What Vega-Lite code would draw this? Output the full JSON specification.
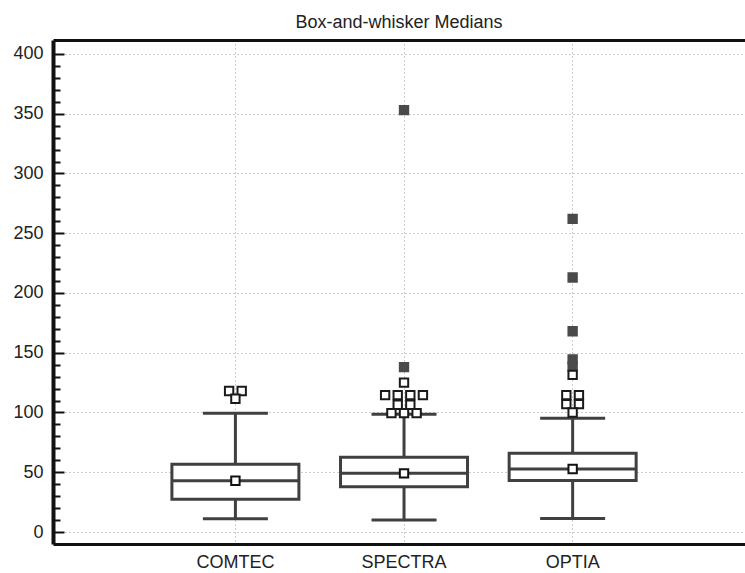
{
  "$schema": "https://vega.github.io/schema/vega-lite/v6.json",
  "width": 692,
  "height": 504,
  "autosize": {"type": "none"},
  "padding": {"left": 53, "top": 40, "right": 0, "bottom": 29},
  "background": "white",
  "config": {"view": {"stroke": null}, "font": "Liberation Sans"},
  "title": {"text": "Box-and-whisker Medians", "font": "Liberation Sans", "fontSize": 18, "fontWeight": "normal", "color": "#222222", "anchor": "middle", "offset": 8},
  "datasets": {
    "stats": [
      {"group": "COMTEC", "lower": 11, "q1": 27.4, "median": 42.9, "q3": 56.6, "upper": 99.3},
      {"group": "SPECTRA", "lower": 10, "q1": 37.9, "median": 49.1, "q3": 62.5, "upper": 98.5},
      {"group": "OPTIA", "lower": 11.2, "q1": 43.2, "median": 52.7, "q3": 65.8, "upper": 95.1}
    ],
    "outliers": [
      {"group": "COMTEC", "value": 118, "kind": "outside"},
      {"group": "COMTEC", "value": 118, "kind": "outside"},
      {"group": "COMTEC", "value": 111.5, "kind": "outside"},
      {"group": "SPECTRA", "value": 353, "kind": "far"},
      {"group": "SPECTRA", "value": 138, "kind": "far"},
      {"group": "SPECTRA", "value": 125, "kind": "outside"},
      {"group": "SPECTRA", "value": 114.5, "kind": "outside"},
      {"group": "SPECTRA", "value": 114.5, "kind": "outside"},
      {"group": "SPECTRA", "value": 114.5, "kind": "outside"},
      {"group": "SPECTRA", "value": 114.5, "kind": "outside"},
      {"group": "SPECTRA", "value": 106.5, "kind": "outside"},
      {"group": "SPECTRA", "value": 106.5, "kind": "outside"},
      {"group": "SPECTRA", "value": 99.5, "kind": "outside"},
      {"group": "SPECTRA", "value": 99.5, "kind": "outside"},
      {"group": "SPECTRA", "value": 99.5, "kind": "outside"},
      {"group": "OPTIA", "value": 262, "kind": "far"},
      {"group": "OPTIA", "value": 213, "kind": "far"},
      {"group": "OPTIA", "value": 168, "kind": "far"},
      {"group": "OPTIA", "value": 144.5, "kind": "far"},
      {"group": "OPTIA", "value": 138.5, "kind": "far"},
      {"group": "OPTIA", "value": 131.5, "kind": "outside"},
      {"group": "OPTIA", "value": 114.5, "kind": "outside"},
      {"group": "OPTIA", "value": 114.5, "kind": "outside"},
      {"group": "OPTIA", "value": 107, "kind": "outside"},
      {"group": "OPTIA", "value": 107, "kind": "outside"},
      {"group": "OPTIA", "value": 100, "kind": "outside"}
    ]
  },
  "resolve": {"axis": {"x": "independent", "y": "independent"}},
  "layer": [
    {
      "data": {"name": "stats"},
      "mark": {"type": "rule", "color": "#404040", "strokeWidth": 3},
      "encoding": {
        "x": {"field": "group", "type": "nominal", "sort": ["COMTEC", "SPECTRA", "OPTIA"],
          "scale": {"type": "band", "paddingInner": 0, "paddingOuter": 0.552, "align": 0.527},
          "axis": {"title": null, "orient": "bottom", "domain": true, "domainColor": "#111111", "domainWidth": 3, "ticks": false, "tickSize": 0, "labelFont": "Liberation Sans", "labelFontSize": 18, "labelColor": "#222222", "labelPadding": 9, "labelAngle": 0, "grid": true, "gridDash": [1, 3], "gridColor": "#9a9a9a", "gridWidth": 1, "bandPosition": 0.5}},
        "y": {"field": "lower", "type": "quantitative",
          "scale": {"domain": [-10.04, 411.7], "nice": false, "zero": false},
          "axis": {"title": null, "orient": "left", "values": [0, 50, 100, 150, 200, 250, 300, 350, 400], "domain": true, "domainColor": "#111111", "domainWidth": 4, "ticks": true, "tickSize": -11, "tickWidth": 2, "tickColor": "#111111", "labelPadding": 21, "labelFont": "Liberation Sans", "labelFontSize": 18, "labelColor": "#222222", "grid": true, "gridDash": [1, 3], "gridColor": "#9a9a9a", "gridWidth": 1}},
        "y2": {"field": "upper"}
      }
    },
    {
      "data": {"name": "stats"},
      "mark": {"type": "bar", "width": 127, "fill": "white", "stroke": "#404040", "strokeWidth": 3},
      "encoding": {
        "x": {"field": "group", "type": "nominal", "sort": ["COMTEC", "SPECTRA", "OPTIA"], "scale": {"type": "band", "paddingInner": 0, "paddingOuter": 0.552, "align": 0.527}, "axis": null},
        "y": {"field": "q1", "type": "quantitative", "scale": {"domain": [-10.04, 411.7], "nice": false, "zero": false}, "axis": null},
        "y2": {"field": "q3"}
      }
    },
    {
      "data": {"name": "stats"},
      "mark": {"type": "tick", "size": 127, "thickness": 3, "color": "#404040", "opacity": 1},
      "encoding": {
        "x": {"field": "group", "type": "nominal", "sort": ["COMTEC", "SPECTRA", "OPTIA"], "scale": {"type": "band", "paddingInner": 0, "paddingOuter": 0.552, "align": 0.527}, "axis": null},
        "y": {"field": "median", "type": "quantitative", "scale": {"domain": [-10.04, 411.7], "nice": false, "zero": false}, "axis": null}
      }
    },
    {
      "data": {"name": "stats"},
      "mark": {"type": "tick", "size": 65, "thickness": 3, "color": "#404040", "opacity": 1},
      "encoding": {
        "x": {"field": "group", "type": "nominal", "sort": ["COMTEC", "SPECTRA", "OPTIA"], "scale": {"type": "band", "paddingInner": 0, "paddingOuter": 0.552, "align": 0.527}, "axis": null},
        "y": {"field": "upper", "type": "quantitative", "scale": {"domain": [-10.04, 411.7], "nice": false, "zero": false}, "axis": null}
      }
    },
    {
      "data": {"name": "stats"},
      "mark": {"type": "tick", "size": 65, "thickness": 3, "color": "#404040", "opacity": 1},
      "encoding": {
        "x": {"field": "group", "type": "nominal", "sort": ["COMTEC", "SPECTRA", "OPTIA"], "scale": {"type": "band", "paddingInner": 0, "paddingOuter": 0.552, "align": 0.527}, "axis": null},
        "y": {"field": "lower", "type": "quantitative", "scale": {"domain": [-10.04, 411.7], "nice": false, "zero": false}, "axis": null}
      }
    },
    {
      "data": {"name": "stats"},
      "mark": {"type": "square", "size": 70, "filled": true, "fill": "white", "stroke": "#111111", "strokeWidth": 2, "opacity": 1},
      "encoding": {
        "x": {"field": "group", "type": "nominal", "sort": ["COMTEC", "SPECTRA", "OPTIA"], "scale": {"type": "band", "paddingInner": 0, "paddingOuter": 0.552, "align": 0.527}, "axis": null},
        "y": {"field": "median", "type": "quantitative", "scale": {"domain": [-10.04, 411.7], "nice": false, "zero": false}, "axis": null}
      }
    },
    {
      "data": {"name": "outliers"},
      "transform": [
        {"window": [{"op": "row_number", "as": "k"}, {"op": "count", "as": "n"}], "groupby": ["group", "value"], "frame": [null, null]},
        {"calculate": "datum.k - (datum.n + 1) / 2", "as": "slot"}
      ],
      "mark": {"type": "square", "size": 70, "filled": true, "strokeWidth": 2, "opacity": 1},
      "encoding": {
        "x": {"field": "group", "type": "nominal", "sort": ["COMTEC", "SPECTRA", "OPTIA"], "scale": {"type": "band", "paddingInner": 0, "paddingOuter": 0.552, "align": 0.527}, "axis": null},
        "xOffset": {"field": "slot", "type": "quantitative", "scale": {"domain": [-1.5, 1.5], "range": [65.4, 103.2]}},
        "y": {"field": "value", "type": "quantitative", "scale": {"domain": [-10.04, 411.7], "nice": false, "zero": false}, "axis": null},
        "fill": {"field": "kind", "type": "nominal", "scale": {"domain": ["outside", "far"], "range": ["#ffffff", "#4a4a4a"]}, "legend": null},
        "stroke": {"field": "kind", "type": "nominal", "scale": {"domain": ["outside", "far"], "range": ["#1a1a1a", "#4a4a4a"]}, "legend": null}
      }
    },
    {
      "data": {"name": "stats"},
      "mark": {"type": "point", "opacity": 0},
      "encoding": {
        "x": {"field": "group", "type": "nominal", "sort": ["COMTEC", "SPECTRA", "OPTIA"], "scale": {"type": "band", "paddingInner": 0, "paddingOuter": 0.552, "align": 0.527},
          "axis": {"title": null, "orient": "top", "labels": false, "ticks": false, "domain": true, "domainColor": "#111111", "domainWidth": 3, "grid": false}},
        "y": {"field": "median", "type": "quantitative", "scale": {"domain": [-10.04, 411.7], "nice": false, "zero": false},
          "axis": {"title": null, "orient": "left", "values": [10, 20, 30, 40, 60, 70, 80, 90, 110, 120, 130, 140, 160, 170, 180, 190, 210, 220, 230, 240, 260, 270, 280, 290, 310, 320, 330, 340, 360, 370, 380, 390], "labels": false, "domain": false, "grid": false, "ticks": true, "tickSize": -7, "tickWidth": 2, "tickColor": "#111111"}}
      }
    }
  ]
}
